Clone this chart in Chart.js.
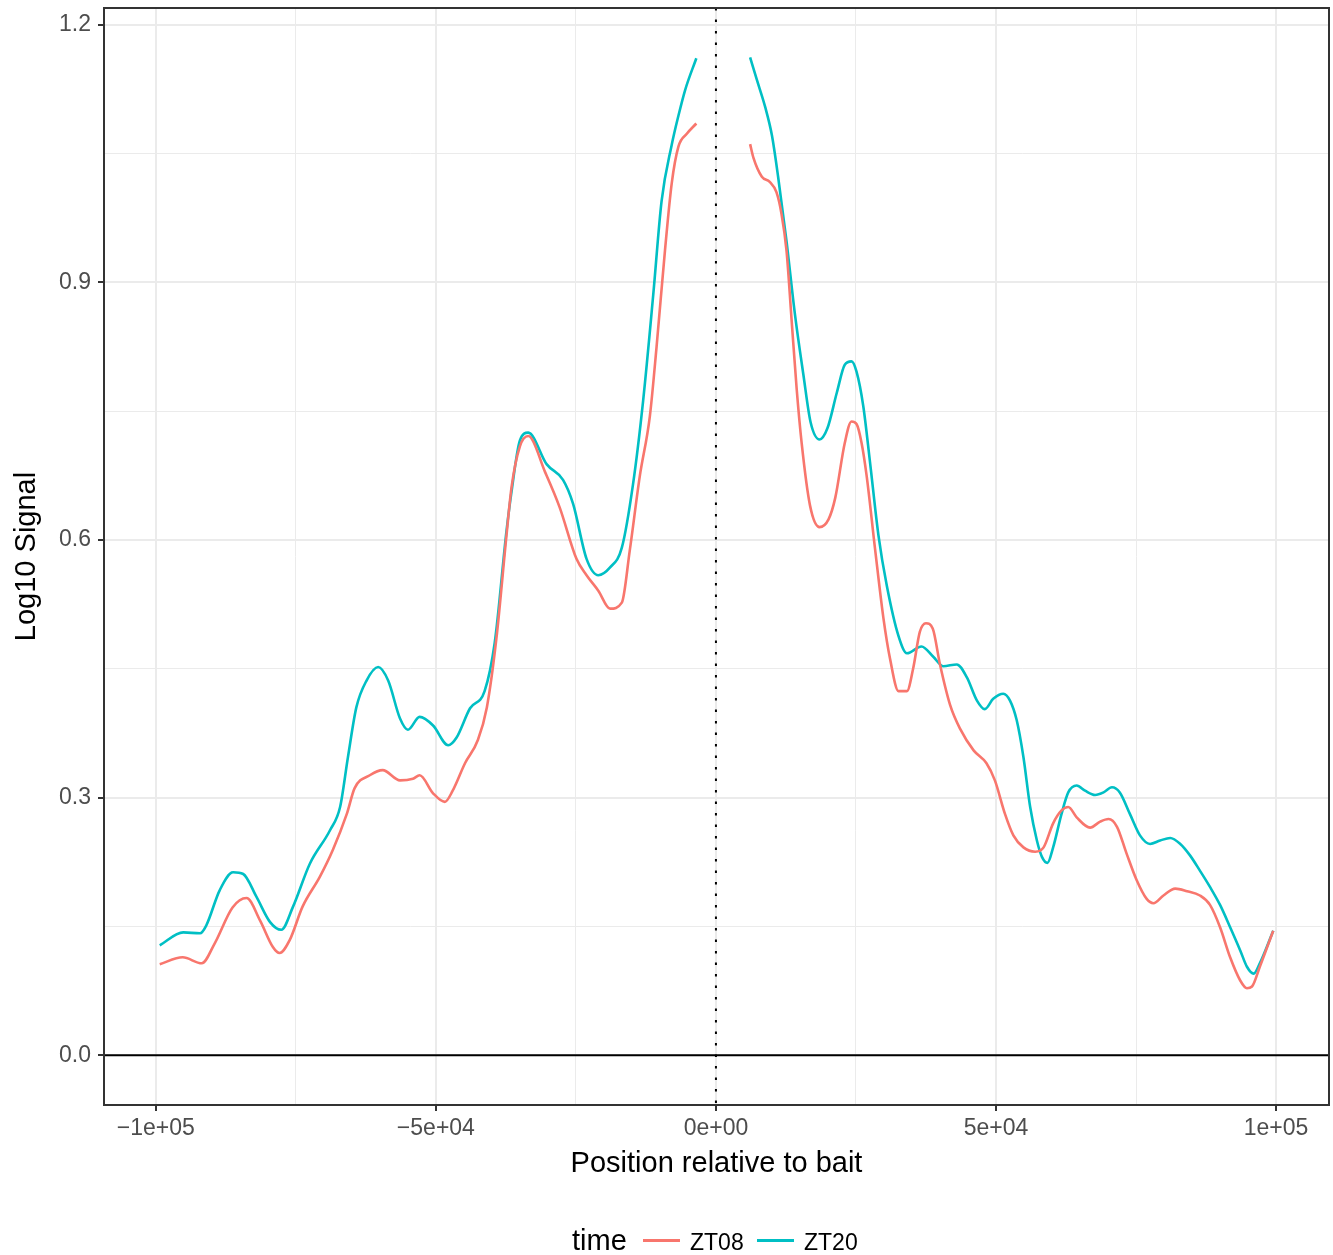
<!DOCTYPE html>
<html>
<head>
<meta charset="utf-8">
<title>Log10 Signal around bait</title>
<script src="https://cdn.jsdelivr.net/npm/chart.js@4/dist/chart.umd.min.js"></script>
<style>
  body { margin: 0; background: #fff; font-family: "Liberation Sans", Arial, sans-serif; }
  #wrap { position: relative; width: 1333px; height: 1255px; }
  #legend .item { position: absolute; white-space: nowrap; color: #000; }
  #legend .key { position: absolute; height: 3px; }
</style>
</head>
<body>
<div id="wrap">
  <canvas id="signalChart" width="1333" height="1255"></canvas>
  <div id="legend"></div>
</div>
<script>
// series names and colours
const seriesNames = ["ZT08", "ZT20"];
const seriesColors = ["#F8766D", "#00BFC4"];

// ZT08: position relative to bait (bp) and log10 signal
const zt08Pos = [-99300, -95200, -91800, -89500, -86300, -83800, -81400, -79100, -77900, -76100,
    -73800, -70700, -68400, -65900, -64500, -61800, -59500, -56400, -54100, -52900,
    -50500, -48400, -47000, -44800, -42500, -40900, -39200, -37400, -36500, -35000,
    -33500, -30500, -27900, -24900, -23100, -21000, -18900, -16800, -15400, -13600,
    -11800, -10600, -9100, -7900, -6700, -5200, -3500,
    6100, 6700, 8200, 9600, 10800, 11700, 12600, 13500, 14400, 15300,
    16800, 18500, 20100, 21300, 23000, 24200, 25100, 26000, 26900, 28400,
    29900, 31100, 32600, 34100, 35200, 36400, 37500, 38700, 40000, 41800,
    43600, 46000, 48300, 49800, 51600, 53100, 54900, 57000, 58500, 60200,
    61700, 62900, 64400, 66800, 68600, 70100, 71600, 73300, 75100, 76900,
    78100, 79900, 82000, 84100, 86400, 88200, 90000, 91800, 93600, 94800,
    95700, 97100, 99500];
const zt08Val = [0.106, 0.114, 0.107, 0.130, 0.172, 0.183, 0.157, 0.126, 0.119, 0.134,
    0.173, 0.208, 0.239, 0.281, 0.311, 0.326, 0.332, 0.320, 0.322, 0.326,
    0.305, 0.295, 0.308, 0.340, 0.367, 0.405, 0.485, 0.605, 0.661, 0.709,
    0.721, 0.679, 0.638, 0.578, 0.559, 0.541, 0.520, 0.527, 0.587, 0.674,
    0.744, 0.825, 0.937, 1.015, 1.058, 1.073, 1.085,
    1.061, 1.045, 1.023, 1.017, 1.005, 0.980, 0.937, 0.857, 0.777, 0.713,
    0.640, 0.615, 0.624, 0.649, 0.713, 0.738, 0.735, 0.713, 0.675, 0.590,
    0.509, 0.461, 0.424, 0.424, 0.450, 0.493, 0.503, 0.497, 0.455, 0.408,
    0.380, 0.355, 0.340, 0.320, 0.281, 0.256, 0.242, 0.237, 0.242, 0.270,
    0.285, 0.289, 0.277, 0.265, 0.272, 0.275, 0.266, 0.235, 0.204, 0.182,
    0.177, 0.186, 0.194, 0.191, 0.186, 0.175, 0.149, 0.114, 0.087, 0.078,
    0.080, 0.103, 0.145];

// ZT20
const zt20Pos = [-99300, -95100, -92100, -91000, -88600, -86200, -84400, -82000, -79600, -77600,
    -75500, -72500, -68900, -67100, -65700, -64200, -62400, -60300, -58500, -56400,
    -55000, -52900, -50500, -47800, -46300, -43900, -41300, -39500, -37400, -36500,
    -35000, -33500, -30200, -27300, -25500, -23100, -21000, -18900, -16800, -14800,
    -13000, -11200, -9700, -7900, -6700, -5500, -3500,
    6100, 7300, 8800, 10000, 11100, 12600, 14100, 15600, 16900, 18500,
    19900, 21600, 23000, 24200, 25100, 26300, 27500, 29000, 30500, 32600,
    34100, 36700, 38800, 40600, 43000, 44800, 46600, 48000, 49500, 51300,
    52500, 53700, 54900, 56100, 57300, 58200, 59200, 60200, 61700, 62900,
    64400, 65900, 67700, 69200, 70700, 72100, 73900, 75700, 77500, 79300,
    81100, 82900, 84600, 86400, 88200, 90000, 91800, 93600, 94800, 96000,
    97100, 99500];
const zt20Val = [0.128, 0.143, 0.142, 0.151, 0.192, 0.213, 0.211, 0.184, 0.155, 0.146,
    0.173, 0.223, 0.262, 0.289, 0.347, 0.405, 0.436, 0.452, 0.436, 0.392,
    0.379, 0.394, 0.384, 0.361, 0.370, 0.404, 0.424, 0.480, 0.610, 0.656,
    0.716, 0.725, 0.688, 0.670, 0.642, 0.578, 0.559, 0.568, 0.591, 0.665,
    0.762, 0.885, 0.995, 1.060, 1.094, 1.124, 1.161,
    1.162, 1.136, 1.104, 1.071, 1.023, 0.948, 0.863, 0.793, 0.737, 0.717,
    0.730, 0.772, 0.804, 0.808, 0.796, 0.756, 0.691, 0.606, 0.547, 0.488,
    0.468, 0.476, 0.464, 0.453, 0.455, 0.440, 0.413, 0.403, 0.415, 0.421,
    0.413, 0.390, 0.347, 0.289, 0.250, 0.231, 0.224, 0.242, 0.281, 0.306,
    0.314, 0.308, 0.303, 0.306, 0.312, 0.306, 0.281, 0.256, 0.246, 0.250,
    0.253, 0.246, 0.233, 0.215, 0.196, 0.175, 0.149, 0.122, 0.103, 0.095,
    0.107, 0.145];

// axis ticks
const xMajorTicks = [-100000, -50000, 0, 50000, 100000];
const xTickLabels = ["\u22121e+05", "\u22125e+04", "0e+00", "5e+04", "1e+05"];
const xMinorTicks = [-75000, -25000, 25000, 75000];
const yMajorTicks = [0, 0.3, 0.6, 0.9, 1.2];
const yTickLabels = ["0.0", "0.3", "0.6", "0.9", "1.2"];
const yMinorTicks = [0.15, 0.45, 0.75, 1.05];

const baitPos = 0;

// build points, leaving a gap where the bait sits
function buildPoints(pos, val) {
    const pts = [];
    for (let i = 0; i < pos.length; i++) {
        if (i > 0 && pos[i - 1] < baitPos && pos[i] > baitPos) {
            pts.push({ x: baitPos, y: null });
        }
        pts.push({ x: pos[i], y: val[i] });
    }
    return pts;
}

function tickSet(major, minor) {
    return major.concat(minor).sort((a, b) => a - b).map(v => ({ value: v }));
}

function isMajor(list, v) {
    return list.some(m => Math.abs(m - v) < 1e-9);
}

const GRID = "#EBEBEB";
const DARK = "#333333";

// reference lines + panel border
const panelPlugin = {
    id: "panel",
    afterDatasetsDraw(chart) {
        const { ctx, chartArea: a, scales } = chart;
        ctx.save();
        // horizontal line at 0
        const y0 = scales.y.getPixelForValue(0);
        ctx.strokeStyle = "#000";
        ctx.lineWidth = 2;
        ctx.beginPath();
        ctx.moveTo(a.left, y0);
        ctx.lineTo(a.right, y0);
        ctx.stroke();
        // dotted line at bait
        const x0 = scales.x.getPixelForValue(baitPos);
        ctx.setLineDash([2.5, 9]);
        ctx.beginPath();
        ctx.moveTo(x0, a.top);
        ctx.lineTo(x0, a.bottom);
        ctx.stroke();
        ctx.setLineDash([]);
        // border
        ctx.strokeStyle = DARK;
        ctx.lineWidth = 2;
        ctx.strokeRect(a.left, a.top, a.right - a.left, a.bottom - a.top);
        ctx.restore();
    }
};

const datasets = [
    { label: seriesNames[0], data: buildPoints(zt08Pos, zt08Val) },
    { label: seriesNames[1], data: buildPoints(zt20Pos, zt20Val) }
].map((d, i) => Object.assign(d, {
    borderColor: seriesColors[i],
    backgroundColor: seriesColors[i],
    borderWidth: 2.6,
    pointRadius: 0,
    fill: false,
    spanGaps: false,
    cubicInterpolationMode: "monotone"
}));

new Chart(document.getElementById("signalChart"), {
    type: "line",
    data: { datasets: datasets },
    plugins: [panelPlugin],
    options: {
        responsive: false,
        animation: false,
        layout: { padding: { left: 10, right: 4, top: 8, bottom: 74 } },
        plugins: {
            legend: { display: false },
            tooltip: { enabled: false }
        },
        scales: {
            x: {
                type: "linear",
                min: -109250,
                max: 109450,
                afterBuildTicks: (s) => { s.ticks = tickSet(xMajorTicks, xMinorTicks); },
                afterFit: (s) => { s.height = 76; s.paddingLeft = 0; s.paddingRight = 0; },
                ticks: {
                    color: "#4D4D4D",
                    font: { family: "Liberation Sans", size: 23 },
                    padding: 4,
                    maxRotation: 0,
                    autoSkip: false,
                    callback: (v) => {
                        const i = xMajorTicks.indexOf(v);
                        return i >= 0 ? xTickLabels[i] : "";
                    }
                },
                grid: {
                    color: GRID,
                    lineWidth: (c) => isMajor(xMajorTicks, c.tick.value) ? 2 : 1,
                    tickLength: 6,
                    tickColor: (c) => isMajor(xMajorTicks, c.tick.value) ? DARK : "rgba(0,0,0,0)",
                    tickWidth: 2
                },
                border: { display: false },
                title: {
                    display: true,
                    text: "Position relative to bait",
                    color: "#000",
                    font: { family: "Liberation Sans", size: 29 },
                    padding: 0
                }
            },
            y: {
                type: "linear",
                min: -0.058,
                max: 1.2195,
                afterBuildTicks: (s) => { s.ticks = tickSet(yMajorTicks, yMinorTicks); },
                afterFit: (s) => { s.width = 94; s.paddingTop = 0; s.paddingBottom = 0; },
                ticks: {
                    color: "#4D4D4D",
                    font: { family: "Liberation Sans", size: 23 },
                    padding: 7,
                    autoSkip: false,
                    callback: (v) => {
                        const i = yMajorTicks.findIndex(m => Math.abs(m - v) < 1e-9);
                        return i >= 0 ? yTickLabels[i] : "";
                    }
                },
                grid: {
                    color: GRID,
                    lineWidth: (c) => isMajor(yMajorTicks, c.tick.value) ? 2 : 1,
                    tickLength: 6,
                    tickColor: (c) => isMajor(yMajorTicks, c.tick.value) ? DARK : "rgba(0,0,0,0)",
                    tickWidth: 2
                },
                border: { display: false },
                title: {
                    display: true,
                    text: "Log10 Signal",
                    color: "#000",
                    font: { family: "Liberation Sans", size: 29 },
                    padding: 0
                }
            }
        }
    }
});

// legend at the bottom, like ggplot's "time" guide
const legend = document.getElementById("legend");
function addText(text, left, top, size) {
    const el = document.createElement("div");
    el.className = "item";
    el.textContent = text;
    el.style.left = left + "px";
    el.style.top = top + "px";
    el.style.fontSize = size + "px";
    el.style.lineHeight = size + "px";
    legend.appendChild(el);
}
function addKey(color, left, width, top) {
    const el = document.createElement("div");
    el.className = "key";
    el.style.background = color;
    el.style.left = left + "px";
    el.style.width = width + "px";
    el.style.top = top + "px";
    legend.appendChild(el);
}
addText("time", 572, 1226, 29);
addKey(seriesColors[0], 643, 37, 1239);
addText(seriesNames[0], 690, 1231, 23);
addKey(seriesColors[1], 757, 37, 1239);
addText(seriesNames[1], 804, 1231, 23);
</script>
</body>
</html>
